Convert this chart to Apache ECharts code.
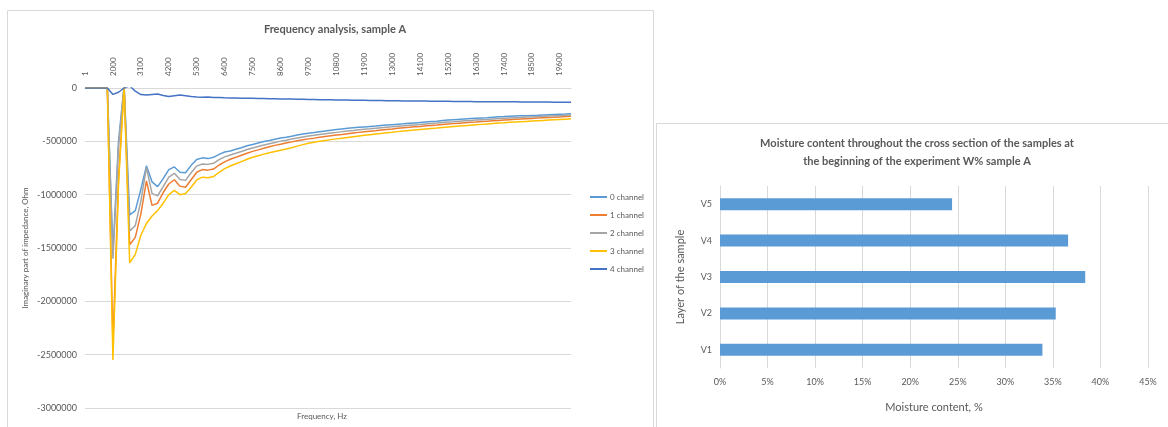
<!DOCTYPE html>
<html>
<head>
<meta charset="utf-8">
<script src="https://cdn.jsdelivr.net/npm/echarts@6/dist/echarts.min.js"></script>
<style>
html,body{margin:0;padding:0;background:#fff;}
#c{width:1168px;height:427px;}
</style>
</head>
<body>
<div id="c"></div>
<script>
// ---------- Left chart data: frequency analysis ----------
const freqCategories = ["1","400","800","1200","1600",
"2000","2220","2440","2660","2880","3100","3320","3540","3760","3980",
"4200","4420","4640","4860","5080","5300","5520","5740","5960","6180",
"6400","6620","6840","7060","7280","7500","7720","7940","8160","8380",
"8600","8820","9040","9260","9480","9700","9920","10140","10360","10580",
"10800","11020","11240","11460","11680","11900","12120","12340","12560","12780",
"13000","13220","13440","13660","13880","14100","14320","14540","14760","14980",
"15200","15420","15640","15860","16080","16300","16520","16740","16960","17180",
"17400","17620","17840","18060","18280","18500","18720","18940","19160","19380",
"19600","19820","20000"];

const channel0 = [0,0,0,0,0,
-1550000,-500000,20000,-1190000,-1150000,-950000,-730000,-880000,-925000,-850000,
-765000,-740000,-790000,-795000,-725000,-670000,-655000,-662000,-650000,-622000,
-600000,-590000,-575000,-560000,-542000,-530000,-516000,-502000,-492000,-480000,
-468000,-462000,-452000,-441000,-432000,-425000,-418000,-410000,-403000,-396000,
-390000,-384000,-378000,-373000,-369000,-365000,
-361000,-357000,-352000,-348000,-344000,-340000,-336000,-331000,-327000,-323000,
-319000,-315000,-311000,-305000,-300000,-297000,-294000,-290000,-287000,-284000,
-281000,-278000,-274000,-270000,-268000,-265000,-263000,-261000,-259000,-257000,
-255000,-252000,-250000,-248000,-246000,-244000,-241000];

const channel1 = [0,0,0,0,0,
-2400000,-850000,15000,-1470000,-1400000,-1180000,-870000,-1100000,-1080000,-980000,
-900000,-860000,-920000,-930000,-860000,-790000,-765000,-770000,-760000,-722000,
-692000,-668000,-650000,-630000,-611000,-594000,-580000,-565000,-551000,-538000,
-527000,-516000,-505000,-495000,-486000,-477000,-470000,-462000,-455000,-448000,
-441000,-435000,-428000,-422000,-416000,-410000,
-405000,-400000,-394000,-389000,-384000,-378000,-373000,-369000,-364000,-360000,
-355000,-351000,-347000,-342000,-338000,-334000,-330000,-326000,-322000,-319000,
-315000,-312000,-308000,-304000,-300000,-297000,-294000,-291000,-288000,-285000,
-282000,-279000,-276000,-274000,-271000,-268000,-266000];

const channel2 = [0,0,0,0,0,
-1600000,-550000,15000,-1340000,-1290000,-1060000,-745000,-990000,-1010000,-925000,
-835000,-800000,-858000,-866000,-795000,-732000,-712000,-716000,-706000,-672000,
-646000,-628000,-612000,-595000,-577000,-562000,-548000,-534000,-522000,-510000,
-498000,-489000,-479000,-468000,-459000,-451000,-444000,-436000,-429000,-422000,
-416000,-409000,-403000,-398000,-392000,-387000,
-383000,-378000,-373000,-368000,-364000,-359000,-355000,-350000,-346000,-342000,
-337000,-333000,-329000,-324000,-319000,-316000,-312000,-308000,-304000,-301000,
-298000,-295000,-291000,-287000,-284000,-281000,-278000,-276000,-273000,-271000,
-268000,-266000,-263000,-261000,-259000,-256000,-254000];

const channel3 = [0,0,0,0,0,
-2550000,-900000,10000,-1640000,-1560000,-1380000,-1270000,-1200000,-1150000,-1080000,
-1000000,-960000,-1000000,-990000,-930000,-862000,-836000,-842000,-830000,-790000,
-756000,-731000,-710000,-690000,-668000,-650000,-635000,-620000,-607000,-595000,
-583000,-571000,-560000,-545000,-531000,-518000,-509000,-500000,-492000,-484000,
-477000,-470000,-463000,-456000,-450000,-444000,
-438000,-432000,-426000,-420000,-415000,-409000,-404000,-399000,-394000,-389000,
-384000,-379000,-375000,-370000,-365000,-361000,-357000,-353000,-349000,-345000,
-341000,-337000,-333000,-329000,-326000,-322000,-319000,-316000,-313000,-310000,
-307000,-304000,-301000,-298000,-295000,-292000,-289000];

const channel4 = [0,0,0,0,0,
-60000,-40000,0,20000,-30000,-62000,-65000,-60000,-56000,-70000,
-80000,-72000,-65000,-72000,-80000,-85000,-86000,-84000,-88000,-90000,
-92000,-93000,-94000,-95000,-96000,-97000,-98000,-99000,-100000,-101000,
-102000,-103000,-104000,-105000,-106000,-107000,-108000,-109000,-110000,-111000,
-112000,-113000,-113000,-114000,-115000,-116000,
-117000,-117000,-118000,-119000,-120000,-120000,-121000,-122000,-122000,-123000,
-123000,-124000,-124000,-125000,-125000,-126000,-126000,-127000,-127000,-128000,
-128000,-128000,-129000,-129000,-130000,-130000,-130000,-131000,-131000,-131000,
-132000,-132000,-132000,-133000,-133000,-133000,-134000];

const channelNames = ["0 channel","1 channel","2 channel","3 channel","4 channel"];

// ---------- Right chart data: moisture content ----------
const layers = ["V1","V2","V3","V4","V5"];
const moisture = [0.339, 0.353, 0.384, 0.366, 0.244];

const FONT = "Lato, 'Open Sans', sans-serif";
const TXT = "#595959";
const GRID = "#d9d9d9";

const chart = echarts.init(document.getElementById('c'), null, {renderer:'canvas'});
const colors = ["#5B9BD5","#ED7D31","#A5A5A5","#FFC000","#4472C4"];
const channels = [channel0, channel1, channel2, channel3, channel4];

const lineSeries = channels.map((d, k) => ({
  name: channelNames[k], type: 'line', xAxisIndex: 0, yAxisIndex: 0,
  data: d, showSymbol: false, symbol: 'none', smooth: false,
  lineStyle: {width: 1.5, color: colors[k]}, itemStyle: {color: colors[k]},
  z: k === 4 ? 5 : 3
}));

chart.setOption({
  backgroundColor: '#fff',
  animation: false,
  textStyle: {fontFamily: FONT},
  title: [
    {text: 'Frequency analysis, sample A', left: 330, top: 19, textAlign: 'center',
     textStyle: {fontSize: 11, fontWeight: 'bold', color: TXT, fontFamily: FONT}},
    {text: 'Moisture content throughout the cross section of the samples at\nthe beginning of the experiment W% sample A',
     left: 912, top: 129, textAlign: 'center',
     textStyle: {fontSize: 11, fontWeight: 'bold', color: TXT, lineHeight: 18, fontFamily: FONT}}
  ],
  graphic: [
    {type: 'rect', shape: {x: 7.5, y: 10.5, width: 646, height: 420}, style: {fill: 'none', stroke: GRID, lineWidth: 1}, z: -1},
    {type: 'rect', shape: {x: 656.5, y: 123.5, width: 520, height: 310}, style: {fill: 'none', stroke: GRID, lineWidth: 1}, z: -1},
    {type: 'text', left: 297, top: 412, style: {text: 'Frequency, Hz', fill: TXT, fontSize: 8, fontFamily: FONT}}
  ],
  legend: {
    data: channelNames, orient: 'vertical', left: 585, top: 188,
    icon: 'rect', itemWidth: 17, itemHeight: 2, itemGap: 10,
    textStyle: {fontSize: 8, color: TXT, fontFamily: FONT, padding: [0,0,0,-2]}
  },
  grid: [
    {left: 85, top: 88, width: 486, height: 320},
    {left: 720, top: 186, width: 428, height: 182}
  ],
  xAxis: [
    {type: 'category', gridIndex: 0, data: freqCategories, position: 'top', boundaryGap: false,
     axisLine: {show: true, lineStyle: {color: GRID}}, axisTick: {show: false},
     axisLabel: {interval: 4, rotate: 90, fontSize: 8, color: TXT, margin: 12, fontFamily: FONT}},
    {type: 'value', gridIndex: 1, min: 0, max: 0.45, interval: 0.05,
     axisLine: {show: false}, axisTick: {show: false},
     splitLine: {show: true, lineStyle: {color: GRID}},
     axisLabel: {fontSize: 9, color: TXT, margin: 10, fontFamily: FONT,
       formatter: v => Math.round(v * 100) + '%'},
     name: 'Moisture content, %', nameLocation: 'middle', nameGap: 34,
     nameTextStyle: {fontSize: 11, color: TXT, fontFamily: FONT}}
  ],
  yAxis: [
    {type: 'value', gridIndex: 0, min: -3000000, max: 0, interval: 500000,
     axisLine: {show: false}, axisTick: {show: false},
     splitLine: {show: true, lineStyle: {color: GRID}},
     axisLabel: {fontSize: 9, color: TXT, margin: 8, fontFamily: FONT, formatter: v => String(v)},
     name: 'Imaginary part of impedance, Ohm', nameLocation: 'middle', nameGap: 56,
     nameTextStyle: {fontSize: 8, color: TXT, fontFamily: FONT}},
    {type: 'category', gridIndex: 1, data: layers,
     axisLine: {show: true, lineStyle: {color: GRID}}, axisTick: {show: false},
     axisLabel: {fontSize: 9, color: TXT, margin: 8, fontFamily: FONT},
     name: 'Layer of the sample', nameLocation: 'middle', nameGap: 34,
     nameTextStyle: {fontSize: 11, color: TXT, fontFamily: FONT}}
  ],
  series: lineSeries.concat([
    {type: 'bar', xAxisIndex: 1, yAxisIndex: 1, data: moisture, barWidth: 12,
     itemStyle: {color: '#5B9BD5'}, legendHoverLink: false}
  ])
});
</script>
</body>
</html>
